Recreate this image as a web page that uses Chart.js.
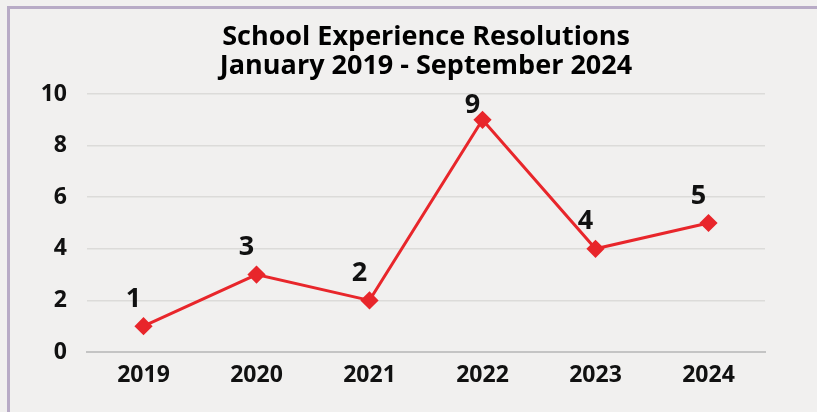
<!DOCTYPE html>
<html lang="en">
<head>
    <meta charset="UTF-8">
    <title>School Experience Resolutions</title>
    <script src="https://cdn.jsdelivr.net/npm/chart.js"></script>
    <style>
        html, body { margin: 0; padding: 0; background: #f1f0ef; }
        #wrap { position: relative; width: 817px; height: 412px; }
        #frame {
            position: absolute; left: 7px; top: 6px; right: -10px; bottom: -10px;
            border-top: 3px solid #b8abc6; border-left: 3px solid #b8abc6;
            pointer-events: none;
        }
        canvas { position: absolute; left: 0; top: 0; }
    </style>
</head>
<body>
<div id="wrap">
    <div id="frame"></div>
    <canvas id="resolutionsChart" width="817" height="412"></canvas>
</div>

<script>
    // chart data
    const years = ['2019', '2020', '2021', '2022', '2023', '2024'];
    const resolutions = [1, 3, 2, 9, 4, 5];
    const titleLines = ['School Experience Resolutions', 'January 2019 - September 2024'];

    const FONT = '"Open Sans", Lato, sans-serif';

    // title centred over the plot area
    const titlePlugin = {
        id: 'plotTitle',
        afterDraw(chart) {
            const ctx = chart.ctx;
            const area = chart.chartArea;
            const cx = (area.left + area.right) / 2;
            ctx.save();
            ctx.fillStyle = '#000';
            ctx.font = 'bold 27px ' + FONT;
            ctx.textAlign = 'center';
            ctx.textBaseline = 'middle';
            ctx.fillText(titleLines[0], cx, 37);
            ctx.fillText(titleLines[1], cx, 66);
            ctx.restore();
        }
    };

    // value labels above each point (kept inside the plot area)
    const valueLabels = {
        id: 'valueLabels',
        afterDatasetsDraw(chart) {
            const ctx = chart.ctx;
            const meta = chart.getDatasetMeta(0);
            const top = chart.chartArea.top;
            ctx.save();
            ctx.fillStyle = '#111';
            ctx.font = 'bold 27px ' + FONT;
            ctx.textAlign = 'center';
            ctx.textBaseline = 'middle';
            meta.data.forEach((pt, i) => {
                const y = Math.max(top + 11, pt.y - 27);
                ctx.fillText(String(resolutions[i]), pt.x - 10, y);
            });
            ctx.restore();
        }
    };

    const ctx = document.getElementById('resolutionsChart').getContext('2d');
    new Chart(ctx, {
        type: 'line',
        data: {
            labels: years,
            datasets: [{
                data: resolutions,
                borderColor: '#e8262b',
                backgroundColor: '#e8262b',
                borderWidth: 3,
                pointStyle: 'rectRot',
                pointRadius: 7,
                pointHoverRadius: 7,
                tension: 0
            }]
        },
        options: {
            responsive: false,
            animation: false,
            layout: { padding: { left: 20, right: 52, top: 94, bottom: 0 } },
            plugins: {
                legend: { display: false },
                title: { display: false },
                tooltip: { enabled: false }
            },
            scales: {
                x: {
                    offset: true,
                    grid: { display: false, drawTicks: false },
                    border: { color: '#c4c4c4', width: 2 },
                    ticks: { color: '#111', font: { family: FONT, size: 23, weight: 'bold' }, padding: 10 },
                    afterFit(scale) { scale.height = 60; }
                },
                y: {
                    min: 0,
                    max: 10,
                    ticks: { stepSize: 2, color: '#111', font: { family: FONT, size: 23, weight: 'bold' }, padding: 20 },
                    grid: { color: '#dcdbd9', lineWidth: 1.5, drawTicks: false },
                    border: { display: false },
                    afterFit(scale) { scale.width = 67; }
                }
            }
        },
        plugins: [titlePlugin, valueLabels]
    });
</script>
</body>
</html>
